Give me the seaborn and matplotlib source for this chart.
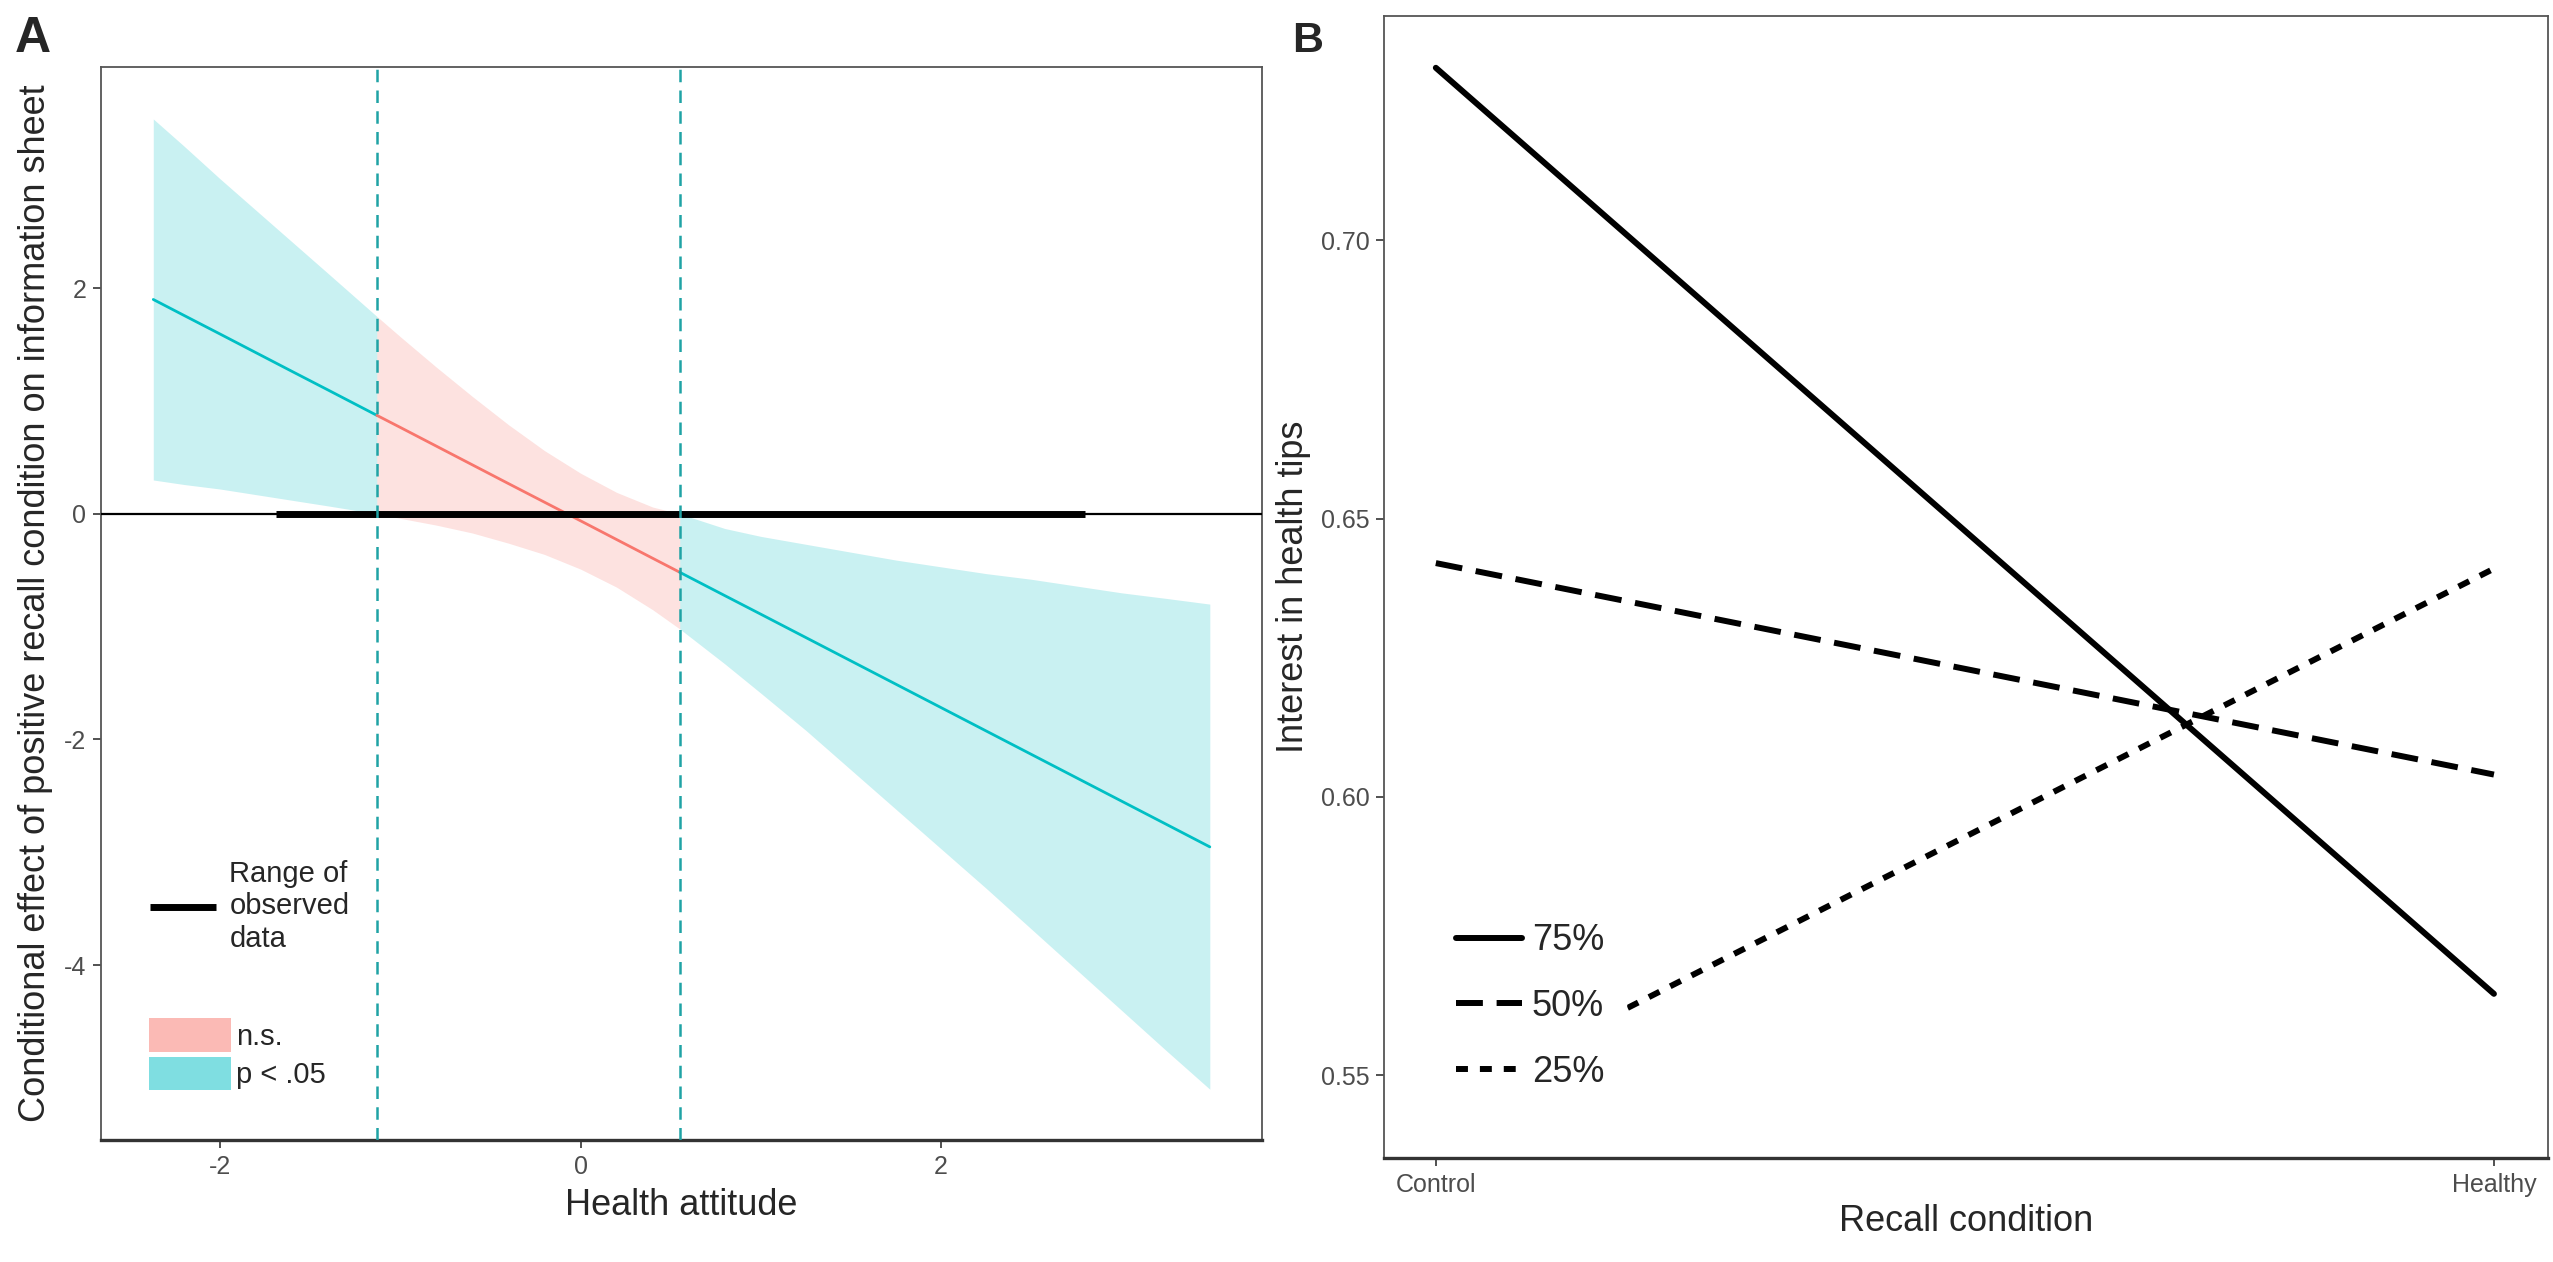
import numpy as np
import pandas as pd
import matplotlib
matplotlib.use('Agg')
import matplotlib.pyplot as plt
import seaborn as sns
from matplotlib.lines import Line2D
from matplotlib.patches import Patch

# Panel A: Johnson-Neyman plot (conditional effect vs health attitude)
attitude = [-2.37, -2.2, -2.0, -1.8, -1.6, -1.4, -1.13, -1.0, -0.8, -0.6, -0.4, -0.2, 0.0, 0.2,
            0.4, 0.55, 0.8, 1.0, 1.25, 1.5, 1.75, 2.0, 2.25, 2.5, 2.75, 3.0, 3.25, 3.49]
effect = [1.900, 1.759, 1.594, 1.428, 1.262, 1.097, 0.873, 0.766, 0.600, 0.434, 0.268, 0.103,
          -0.062, -0.228, -0.394, -0.518, -0.725, -0.890, -1.097, -1.304, -1.511, -1.718,
          -1.925, -2.132, -2.339, -2.546, -2.753, -2.952]
ci_upper = [3.50, 3.26, 2.97, 2.69, 2.41, 2.13, 1.75, 1.57, 1.30, 1.04, 0.79, 0.56, 0.36, 0.19,
            0.06, 0.00, -0.13, -0.20, -0.27, -0.34, -0.41, -0.47, -0.53, -0.58, -0.64, -0.70,
            -0.75, -0.80]
ci_lower = [0.30, 0.26, 0.22, 0.17, 0.12, 0.07, 0.00, -0.04, -0.10, -0.17, -0.26, -0.36, -0.49,
            -0.65, -0.85, -1.02, -1.33, -1.59, -1.92, -2.27, -2.62, -2.97, -3.32, -3.68, -4.04,
            -4.40, -4.76, -5.10]
jn_points = [-1.13, 0.55]
observed_range = [-1.69, 2.80]

# Panel B: simple slopes at percentiles of health attitude
conditions = ['Control', 'Healthy']
pct_labels = ['75%', '50%', '25%']
pct_75 = [0.731, 0.5646]
pct_50 = [0.642, 0.604]
pct_25 = [0.5446, 0.641]

CYAN = '#00BFC4'
PINK = '#F8766D'
VLINE = '#1FA3A5'

sns.set_style('white')
plt.rcParams['font.family'] = ['Liberation Sans', 'DejaVu Sans']
plt.rcParams['axes.unicode_minus'] = False

fig = plt.figure(figsize=(25.53, 12.62), dpi=100)
ax_a = fig.add_axes([0.03956, 0.09667, 0.4548, 0.8502])
ax_b = fig.add_axes([0.5421, 0.0824, 0.4559, 0.9049])

# ---- panel A
rows = []
for x, y, lo, hi in zip(attitude, effect, ci_lower, ci_upper):
    if x <= jn_points[0]:
        rows.append(('low', x, y, lo, hi))
    if jn_points[0] <= x <= jn_points[1]:
        rows.append(('mid', x, y, lo, hi))
    if x >= jn_points[1]:
        rows.append(('high', x, y, lo, hi))
df_a = pd.DataFrame(rows, columns=['seg', 'x', 'y', 'lo', 'hi'])
seg_colors = {'low': CYAN, 'mid': PINK, 'high': CYAN}

for seg, grp in df_a.groupby('seg'):
    ax_a.fill_between(grp['x'], grp['lo'], grp['hi'], color=seg_colors[seg],
                      alpha=0.21, lw=0, zorder=1)

sns.lineplot(data=df_a, x='x', y='y', hue='seg', palette=seg_colors,
             estimator=None, errorbar=None, legend=False, lw=2, ax=ax_a, zorder=3)

ax_a.axhline(0, color='black', lw=1.6, zorder=4)
ax_a.plot(observed_range, [0, 0], color='black', lw=5, solid_capstyle='butt', zorder=4)
for xv in jn_points:
    ax_a.axvline(xv, color=VLINE, ls=(0, (5, 3.3)), lw=1.8, zorder=5)

ax_a.set_xlim(-2.66, 3.78)
ax_a.set_ylim(-5.55, 3.96)
ax_a.set_xticks([-2, 0, 2])
ax_a.set_yticks([-4, -2, 0, 2])
ax_a.set_xlabel('Health attitude', fontsize=26, labelpad=7)
ax_a.set_ylabel('Conditional effect of positive recall condition on information sheet',
                fontsize=26, labelpad=8)

leg1 = ax_a.legend(handles=[Line2D([], [], color='black', lw=5, solid_capstyle='butt')],
                   labels=['Range of\nobserved\ndata'], loc='upper left',
                   bbox_to_anchor=(0.042, 0.261), frameon=False, fontsize=21,
                   handlelength=2.28, handletextpad=0.45, borderpad=0, borderaxespad=0)
ax_a.add_artist(leg1)
ax_a.legend(handles=[Patch(facecolor=PINK, alpha=0.5, edgecolor='none'),
                     Patch(facecolor=CYAN, alpha=0.5, edgecolor='none')],
            labels=['n.s.', 'p < .05'], loc='upper left', bbox_to_anchor=(0.0413, 0.1137),
            frameon=False, fontsize=21, handlelength=2.83, handleheight=1.4,
            labelspacing=0.17, handletextpad=0.15, borderpad=0, borderaxespad=0)

# ---- panel B
df_b = pd.DataFrame({
    'condition': [0, 1] * 3,
    'interest': pct_75 + pct_50 + pct_25,
    'pct': [p for p in pct_labels for _ in conditions],
})
dash_map = {'75%': '', '50%': (4.5, 2.3), '25%': (2, 2)}
sns.lineplot(data=df_b, x='condition', y='interest', style='pct', dashes=dash_map,
             style_order=pct_labels, color='black', lw=4.3, estimator=None,
             errorbar=None, legend=False, ax=ax_b)

ax_b.set_xlim(-0.049, 1.051)
ax_b.set_ylim(0.5351, 0.7403)
ax_b.set_xticks([0, 1])
ax_b.set_xticklabels(conditions)
ax_b.set_yticks([0.55, 0.60, 0.65, 0.70])
ax_b.set_yticklabels(['0.55', '0.60', '0.65', '0.70'])
ax_b.set_xlabel('Recall condition', fontsize=26, labelpad=5)
ax_b.set_ylabel('Interest in health tips', fontsize=26, labelpad=7)

b_handles = [Line2D([], [], color='black', lw=4.3, ls='-'),
             Line2D([], [], color='black', lw=4.3, ls=(0, (4.5, 2.3))),
             Line2D([], [], color='black', lw=4.3, ls=(0, (2, 2)))]
leg_b = ax_b.legend(handles=b_handles, labels=pct_labels, loc='upper left',
                    bbox_to_anchor=(0.043, 0.2245), fontsize=26, frameon=True,
                    facecolor='white', edgecolor='white', framealpha=1, fancybox=False,
                    handlelength=1.83, handletextpad=0.28, labelspacing=0.85,
                    borderpad=0.6, borderaxespad=0)

for ax in (ax_a, ax_b):
    ax.tick_params(axis='both', which='both', labelsize=18, labelcolor='#4D4D4D',
                   length=5.5, width=1.2, color='#333333', pad=5,
                   bottom=True, left=True)
    for side in ('top', 'right', 'left'):
        ax.spines[side].set_color('#555555')
        ax.spines[side].set_linewidth(1.3)
    ax.spines['bottom'].set_color('#333333')
    ax.spines['bottom'].set_linewidth(2.4)

fig.text(15 / 2553, 1 - 52 / 1262, 'A', fontsize=36, fontweight='bold', va='baseline')
fig.text(1292 / 2553, 1 - 52 / 1262, 'B', fontsize=31, fontweight='bold', va='baseline')

fig.savefig('out.png', dpi=100, facecolor='white')
